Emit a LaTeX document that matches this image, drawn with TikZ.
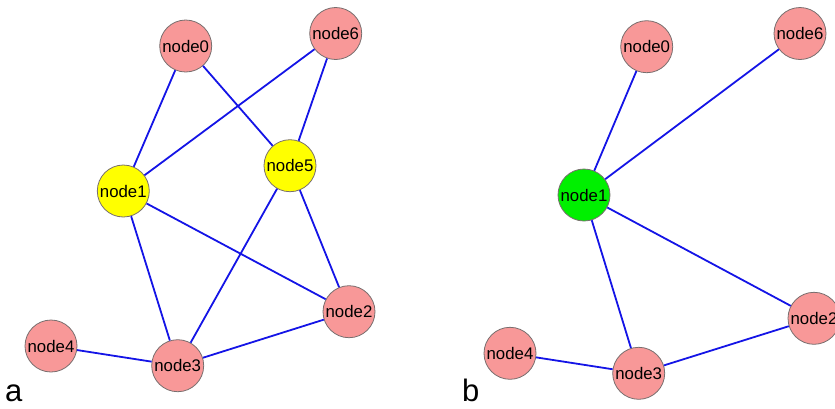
\documentclass[tikz,border=0pt]{standalone}
\usepackage{fontspec}
\setmainfont{Liberation Sans}
\definecolor{nodepink}{RGB}{248,152,152}
\definecolor{nodeyellow}{RGB}{255,255,0}
\definecolor{nodegreen}{RGB}{0,240,0}
\definecolor{edgeblue}{RGB}{20,20,230}
\definecolor{rimgray}{RGB}{120,110,110}
\begin{document}
\begin{tikzpicture}[x=1pt,y=-1pt,
  gnode/.style={circle,draw=rimgray,line width=0.8pt,fill=nodepink,minimum size=52pt,inner sep=0pt,font=\fontsize{16.8}{18}\selectfont},
  ynode/.style={gnode,fill=nodeyellow},
  grnode/.style={gnode,fill=nodegreen},
  edge/.style={draw=edgeblue,line width=1.8pt},
  panellabel/.style={font=\fontsize{31}{33}\selectfont,inner sep=0pt}]
\useasboundingbox (0,0) rectangle (835,408);
% panel a
\node[gnode] (a0) at (185.7,46) {node0};
\node[gnode] (a6) at (335.7,33.5) {node6};
\node[ynode] (a1) at (123.3,191) {node1};
\node[ynode] (a5) at (290,165.7) {node5};
\node[gnode] (a2) at (349,311.7) {node2};
\node[gnode] (a4) at (51,346) {node4};
\node[gnode] (a3) at (177.7,365.7) {node3};
\path[edge] (a0) -- (a1) (a0) -- (a5) (a6) -- (a1) (a6) -- (a5)
  (a1) -- (a3) (a1) -- (a2) (a5) -- (a3) (a5) -- (a2) (a3) -- (a2) (a4) -- (a3);
\node[panellabel,anchor=base west] (la) at (5,401) {a};
% panel b
\node[gnode] (b0) at (646.7,46.7) {node0};
\node[gnode] (b6) at (800,33.5) {node6};
\node[grnode] (b1) at (584,195) {node1};
\node[gnode] (b2) at (814,318.3) {node2};
\node[gnode] (b4) at (510,353.3) {node4};
\node[gnode] (b3) at (638.7,373.3) {node3};
\path[edge] (b1) -- (b0) (b1) -- (b6) (b1) -- (b2) (b1) -- (b3) (b3) -- (b2) (b4) -- (b3);
\node[panellabel,anchor=base west] (lb) at (462,401) {b};
\end{tikzpicture}
\end{document}
